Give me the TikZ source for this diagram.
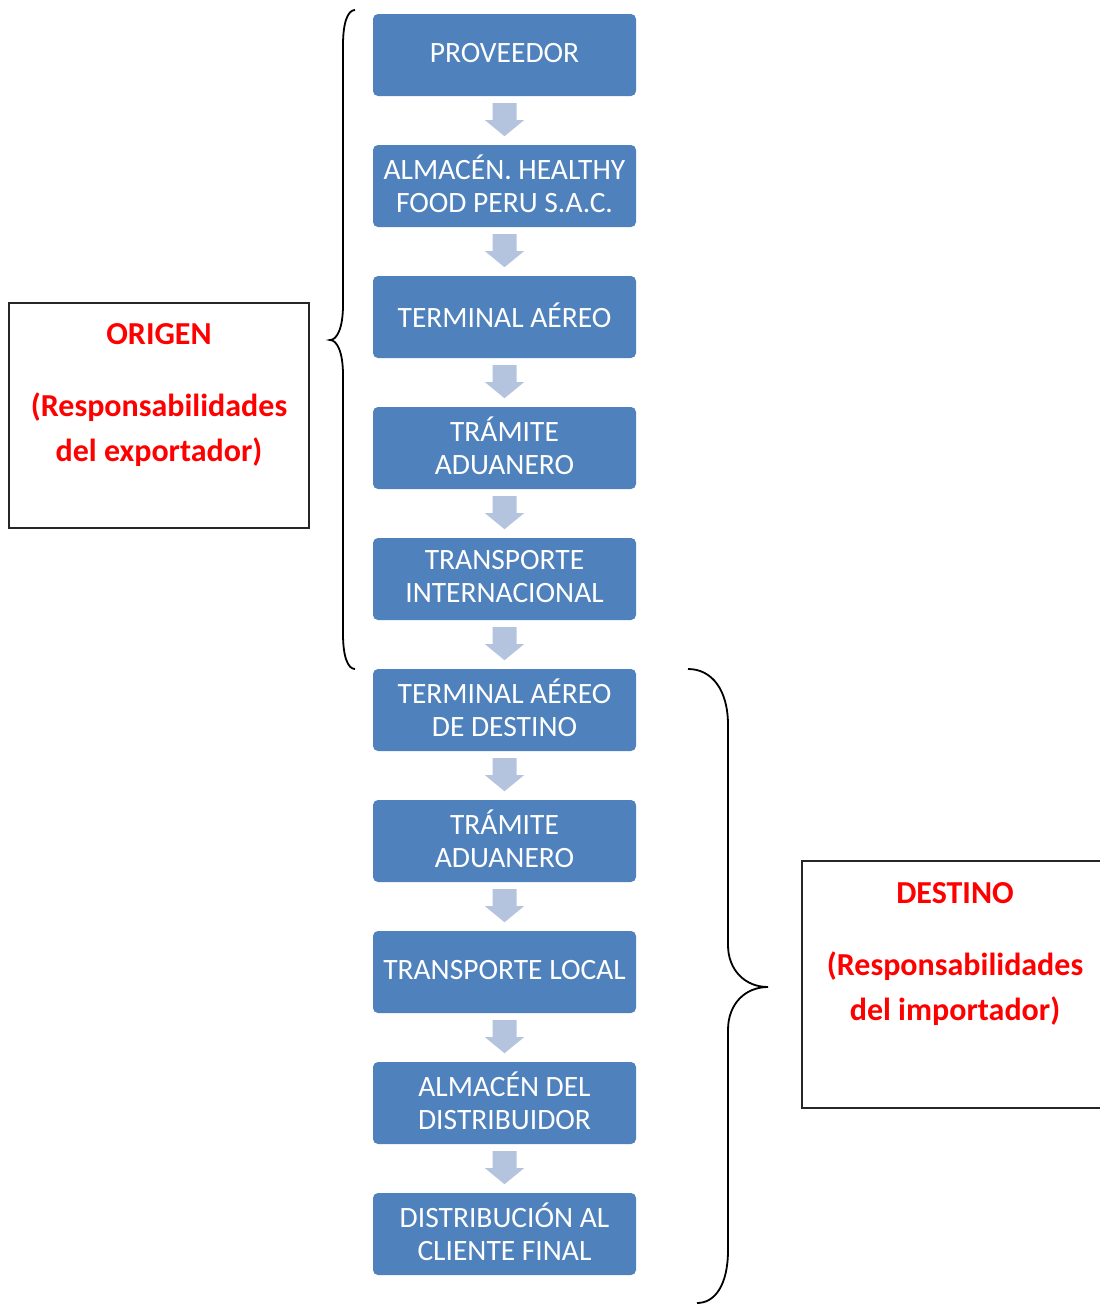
\documentclass[tikz,border=0pt]{standalone}
\usepackage{fontspec}
\setmainfont{Carlito}
\usetikzlibrary{calc}
\definecolor{stepblue}{HTML}{4F81BD}
\definecolor{flowarrow}{HTML}{B4C4DE}
\definecolor{notered}{HTML}{FF0000}
\tikzset{
  stepbox/.style={rectangle, rounded corners=5pt, fill=stepblue,
    minimum width=263pt, minimum height=82pt, inner sep=0pt},
  steptext/.style={text=white, align=center, inner sep=0pt,
    font=\fontsize{29.5}{33}\selectfont},
  notebox/.style={draw=black!85, line width=2pt, fill=white,
    minimum width=300pt, inner sep=0pt},
  notetext/.style={text=notered, align=center, inner sep=0pt,
    font=\bfseries\fontsize{32}{45}\selectfont},
  bracestyle/.style={draw=black, line width=1.8pt}
}
% one process step: box plus its label
\newcommand\processstep[3]{%
  \node[stepbox] (#1) at (504.5,#2) {};
  \node[steptext] (#1t) at ($(#1.center)+(0,-2)$) {#3};}
% block arrow hanging below a step box
\newcommand\downarrowbetween[1]{%
  \fill[flowarrow] ($(#1.south)+(-12,7)$) -- ($(#1.south)+(12,7)$) --
    ($(#1.south)+(12,24)$) -- ($(#1.south)+(19.5,24)$) --
    ($(#1.south)+(0,40)$) -- ($(#1.south)+(-19.5,24)$) --
    ($(#1.south)+(-12,24)$) -- cycle;}
\begin{document}
\begin{tikzpicture}[x=1pt,y=-1pt]
\useasboundingbox (0,0) rectangle (1100,1304);
\fill[white] (0,0) rectangle (1100,1304);

% process steps
\processstep{s1}{55}{PROVEEDOR}
\processstep{s2}{186}{ALMACÉN. HEALTHY\\FOOD PERU S.A.C.}
\processstep{s3}{317}{TERMINAL AÉREO}
\processstep{s4}{448}{TRÁMITE\\ADUANERO}
\processstep{s5}{579}{TRANSPORTE\\INTERNACIONAL}
\processstep{s6}{710}{TERMINAL AÉREO\\DE DESTINO}
\processstep{s7}{841}{TRÁMITE\\ADUANERO}
\processstep{s8}{972}{TRANSPORTE LOCAL}
\processstep{s9}{1103}{ALMACÉN DEL\\DISTRIBUIDOR}
\processstep{s10}{1234}{DISTRIBUCIÓN AL\\CLIENTE FINAL}

\foreach \n in {s1,s2,s3,s4,s5,s6,s7,s8,s9}{\downarrowbetween{\n}}

% responsibility notes
\node[notebox, minimum height=225pt] (origen) at (159,415.5) {};
\node[notetext] (origentxt) at (159,395.5)
  {ORIGEN\\[27pt](Responsabilidades\\del exportador)};
\node[notebox, minimum height=247pt] (destino) at (952,984.5) {};
\node[notetext] (destinotxt) at (955,954)
  {DESTINO\\[27pt](Responsabilidades\\del importador)};

% braces grouping the steps
\path[bracestyle] (355,10) .. controls (348,10) and (343,22) .. (343,45)
  -- (343,305) .. controls (343,328) and (337,340) .. (330,340)
  .. controls (337,340) and (343,352) .. (343,375)
  -- (343,634) .. controls (343,657) and (348,669) .. (355,669);
\path[bracestyle] (688,669) .. controls (712,669) and (728,690) .. (728,725)
  -- (728,945) .. controls (728,970) and (745,987) .. (768,987)
  .. controls (745,987) and (728,1004) .. (728,1030)
  -- (728,1250) .. controls (728,1285) and (715,1303) .. (697,1303);
\end{tikzpicture}
\end{document}
